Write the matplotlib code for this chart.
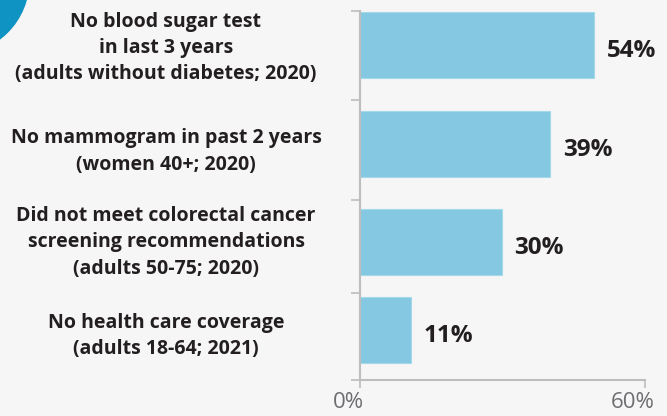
import matplotlib

matplotlib.use("Agg")
import matplotlib.pyplot as plt
from matplotlib.patches import Ellipse
from matplotlib.transforms import blended_transform_factory, ScaledTranslation

# ---------------------------------------------------------------------------
# data
# ---------------------------------------------------------------------------
categories = [
    "No blood sugar test\nin last 3 years\n(adults without diabetes; 2020)",
    "No mammogram in past 2 years\n(women 40+; 2020)",
    "Did not meet colorectal cancer\nscreening recommendations\n(adults 50-75; 2020)",
    "No health care coverage\n(adults 18-64; 2021)",
]
bar_lengths = [49.3, 40.0, 29.8, 10.7]      # bar length as drawn on the 0-60 scale
value_labels = ["54%", "39%", "30%", "11%"]
x_ticks = [0, 60]
x_tick_labels = ["0%", "60%"]

# layout (slot units; uneven spacing as in the original)
y_pos = [0.0, 1.0, 2.0, 2.892]
y_bounds = [-0.345, 0.558, 1.571, 2.514, 3.396]
label_dy = [0.03, 0.08, 0.0, 0.055]
bar_h = 0.669

BG = "#f6f6f6"
BAR = "#84c9e1"
TXT = "#231f20"
AXC = "#bdbdbd"
FONT = ["Open Sans", "DejaVu Sans"]

W, H = 667, 416
fig = plt.figure(figsize=(W / 100, H / 100), dpi=100, facecolor=BG)
ax = fig.add_axes([360 / W, (H - 380) / H, 285 / W, 369 / H], facecolor=BG)

ax.barh(y_pos, bar_lengths, height=bar_h, color=BAR, edgecolor="#a6d8ea",
        linewidth=0.8, zorder=2)
ax.set_xlim(0, 60)
ax.set_ylim(y_bounds[-1], y_bounds[0])

for s in ("top", "right"):
    ax.spines[s].set_visible(False)
for s in ("left", "bottom"):
    ax.spines[s].set_color(AXC)
    ax.spines[s].set_linewidth(1.5)
    ax.spines[s].set_zorder(3)

ax.set_yticks(y_bounds)
ax.set_yticklabels([])
ax.tick_params(axis="y", length=6.5, width=1.2, color=AXC)
ax.set_xticks(x_ticks)
ax.set_xticklabels(x_tick_labels, fontsize=16, color="#6d6e71", family=FONT)
ax.tick_params(axis="x", length=5.5, width=1.2, color=AXC, pad=3)
# tick labels sit a little left of their ticks in the original
for lbl in ax.get_xticklabels():
    lbl.set_transform(lbl.get_transform()
                      + ScaledTranslation(-12 / 100, 0, fig.dpi_scale_trans))

# category labels, centred in the left margin
trans = blended_transform_factory(fig.transFigure, ax.transData)
for y, dy, cat in zip(y_pos, label_dy, categories):
    ax.text(166 / W, y + dy, cat, transform=trans, ha="center", va="center",
            fontsize=14, fontweight="bold", color=TXT, linespacing=1.42,
            family=FONT)

# value labels
for y, v, lab in zip(y_pos, bar_lengths, value_labels):
    ax.annotate(lab, (v, y), xytext=(13, -6), textcoords="offset pixels",
                ha="left", va="center", fontsize=17.5, fontweight="bold",
                color=TXT, family=FONT)

# decorative circle in the top-left corner
fig.patches.append(Ellipse((-45 / W, 1 + 20 / H), 2 * 74 / W, 2 * 74 / H,
                           transform=fig.transFigure, color="#0f93c2"))

fig.savefig("out.png", dpi=100, facecolor=BG)
